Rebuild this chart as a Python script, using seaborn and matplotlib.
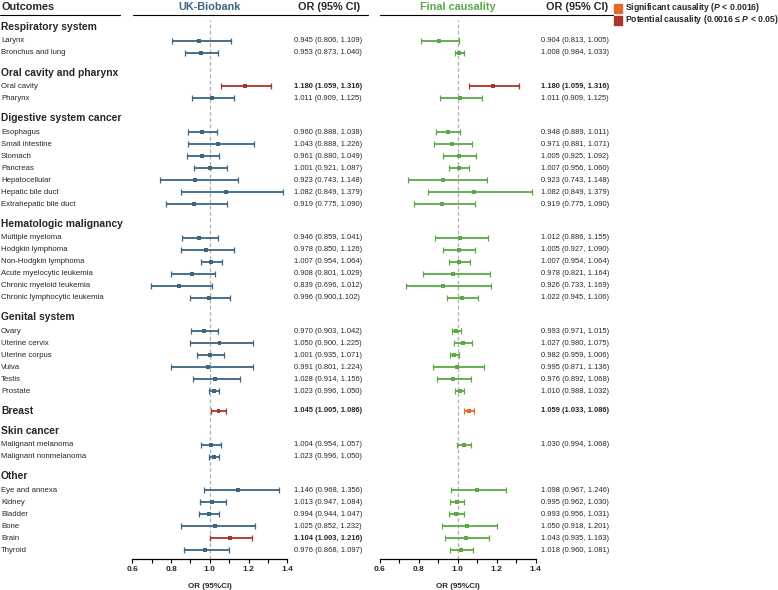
import matplotlib
matplotlib.use("Agg")
import matplotlib.pyplot as plt
import seaborn as sns
import pandas as pd
import numpy as np
from matplotlib.transforms import blended_transform_factory
from matplotlib.lines import Line2D
from matplotlib.patches import Rectangle

# rows: kind = group header / item / header that also carries data (Breast)
labels = ["Respiratory system", "Larynx", "Bronchus and lung",
          "Oral cavity and pharynx", "Oral cavity", "Pharynx",
          "Digestive system cancer", "Esophagus", "Small intestine", "Stomach", "Pancreas",
          "Hepatocellular", "Hepatic bile duct", "Extrahepatic bile duct",
          "Hematologic malignancy", "Multiple myeloma", "Hodgkin lymphoma", "Non-Hodgkin lymphoma",
          "Acute myelocytic leukemia", "Chronic myeloid leukemia", "Chronic lymphocytic leukemia",
          "Genital system", "Ovary", "Uterine cervix", "Uterine corpus", "Vulva", "Testis", "Prostate",
          "Breast",
          "Skin cancer", "Malignant melanoma", "Malignant nonmelanoma",
          "Other", "Eye and annexa", "Kidney", "Bladder", "Bone", "Brain", "Thyroid"]
kinds = ["group", "item", "item",
         "group", "item", "item",
         "group", "item", "item", "item", "item", "item", "item", "item",
         "group", "item", "item", "item", "item", "item", "item",
         "group", "item", "item", "item", "item", "item", "item",
         "groupitem",
         "group", "item", "item",
         "group", "item", "item", "item", "item", "item", "item"]

nan = np.nan
uk_or = [nan, 0.945, 0.953, nan, 1.180, 1.011, nan, 0.960, 1.043, 0.961, 1.001, 0.923, 1.082, 0.919,
         nan, 0.946, 0.978, 1.007, 0.908, 0.839, 0.996, nan, 0.970, 1.050, 1.001, 0.991, 1.028, 1.023,
         1.045, nan, 1.004, 1.023, nan, 1.146, 1.013, 0.994, 1.025, 1.104, 0.976]
uk_lo = [nan, 0.806, 0.873, nan, 1.059, 0.909, nan, 0.888, 0.888, 0.880, 0.921, 0.743, 0.849, 0.775,
         nan, 0.859, 0.850, 0.954, 0.801, 0.696, 0.900, nan, 0.903, 0.900, 0.935, 0.801, 0.914, 0.996,
         1.005, nan, 0.954, 0.996, nan, 0.968, 0.947, 0.944, 0.852, 1.003, 0.868]
uk_hi = [nan, 1.109, 1.040, nan, 1.316, 1.125, nan, 1.038, 1.226, 1.049, 1.087, 1.148, 1.379, 1.090,
         nan, 1.041, 1.126, 1.064, 1.029, 1.012, 1.102, nan, 1.042, 1.225, 1.071, 1.224, 1.156, 1.050,
         1.086, nan, 1.057, 1.050, nan, 1.356, 1.084, 1.047, 1.232, 1.216, 1.097]
uk_status = ["", "none", "none", "", "pot", "none", "", "none", "none", "none", "none", "none", "none", "none",
             "", "none", "none", "none", "none", "none", "none", "", "none", "none", "none", "none", "none", "none",
             "pot", "", "none", "none", "", "none", "none", "none", "none", "pot", "none"]

fc_or = [nan, 0.904, 1.008, nan, 1.180, 1.011, nan, 0.948, 0.971, 1.005, 1.007, 0.923, 1.082, 0.919,
         nan, 1.012, 1.005, 1.007, 0.978, 0.926, 1.022, nan, 0.993, 1.027, 0.982, 0.995, 0.976, 1.010,
         1.059, nan, 1.030, nan, nan, 1.098, 0.995, 0.993, 1.050, 1.043, 1.018]
fc_lo = [nan, 0.813, 0.984, nan, 1.059, 0.909, nan, 0.889, 0.881, 0.925, 0.956, 0.743, 0.849, 0.775,
         nan, 0.886, 0.927, 0.954, 0.821, 0.733, 0.945, nan, 0.971, 0.980, 0.959, 0.871, 0.892, 0.988,
         1.033, nan, 0.994, nan, nan, 0.967, 0.962, 0.956, 0.918, 0.935, 0.960]
fc_hi = [nan, 1.005, 1.033, nan, 1.316, 1.125, nan, 1.011, 1.071, 1.092, 1.060, 1.148, 1.379, 1.090,
         nan, 1.155, 1.090, 1.064, 1.164, 1.169, 1.106, nan, 1.015, 1.075, 1.006, 1.136, 1.068, 1.032,
         1.086, nan, 1.068, nan, nan, 1.246, 1.030, 1.031, 1.201, 1.163, 1.081]
fc_status = ["", "none", "none", "", "pot", "none", "", "none", "none", "none", "none", "none", "none", "none",
             "", "none", "none", "none", "none", "none", "none", "", "none", "none", "none", "none", "none", "none",
             "sig", "", "none", "", "", "none", "none", "none", "none", "none", "none"]

# text overrides where the source prints differently
uk_text_override = {"Chronic lymphocytic leukemia": "0.996 (0.900,1.102)"}

UK_BLUE = "#3d6481"
GREEN = "#5aa846"
SIG = "#e0692c"
POT = "#a8342c"

W, H = 778, 590
sns.set_style("white")
plt.rcParams["font.family"] = ["Liberation Sans", "DejaVu Sans"]
plt.rcParams["mathtext.fontset"] = "custom"
plt.rcParams["mathtext.bfit"] = "Liberation Sans:italic:bold"
plt.rcParams["mathtext.it"] = "Liberation Sans:italic"

# vertical positions from the row structure
ys = []
y = 0.0
prev = None
for k in kinds:
    if prev is None:
        y = 0.0
    elif k in ("group", "groupitem"):
        y += 1.65
    elif prev == "group":
        y += 1.15
    else:
        y += 1.0
    ys.append(y)
    prev = k

PX_PER_ROW = 12.0
Y0_PX = 27.0
AX_TOP_PX, AX_BOT_PX = 20.0, 559.3
ylim = ((AX_BOT_PX - Y0_PX) / PX_PER_ROW, -(Y0_PX - AX_TOP_PX) / PX_PER_ROW)

fig = plt.figure(figsize=(W / 100, H / 100), dpi=100)


def make_ax(left_px, right_px):
    return fig.add_axes([left_px / W, 1 - AX_BOT_PX / H, (right_px - left_px) / W,
                         (AX_BOT_PX - AX_TOP_PX) / H])


def forest(ax, ors, los, his, status, base_color):
    df = pd.DataFrame({"OR": ors, "lo": los, "hi": his, "y": ys, "status": status}).dropna()
    palette = {"none": base_color, "sig": SIG, "pot": POT}
    for st, sub in df.groupby("status"):
        ax.errorbar(sub["OR"], sub["y"], xerr=[sub["OR"] - sub["lo"], sub["hi"] - sub["OR"]],
                    fmt="none", ecolor=palette[st], elinewidth=1.3, capsize=2.2, capthick=0.9)
    sns.scatterplot(data=df, x="OR", y="y", hue="status", palette=palette, marker="s",
                    s=8, linewidth=0, legend=False, ax=ax, zorder=3)
    ax.axvline(1.0, color="#b0b0b0", linestyle=(0, (3, 2)), linewidth=0.9, zorder=0)
    ax.set_xlim(0.6, 1.4)
    ax.set_ylim(*ylim)
    ax.set_xticks([0.6, 0.8, 1.0, 1.2, 1.4])
    ax.set_xticks(np.arange(0.6, 1.41, 0.1), minor=True)
    ax.set_xticklabels(["0.6", "0.8", "1.0", "1.2", "1.4"], fontweight="bold", fontsize=6)
    ax.tick_params(axis="x", which="both", direction="out", length=3, width=0.8, pad=2,
                   bottom=True, color="black")
    ax.set_yticks([])
    for s in ["top", "right", "left"]:
        ax.spines[s].set_visible(False)
    ax.spines["bottom"].set_linewidth(0.9)
    ax.spines["bottom"].set_color("black")
    ax.set_xlabel("OR (95%CI)", fontweight="bold", fontsize=5.8, labelpad=7)
    ax.set_ylabel("")
    ax.patch.set_alpha(0)


ax_uk = make_ax(132.3, 287.3)
ax_fc = make_ax(379.7, 535.7)
forest(ax_uk, uk_or, uk_lo, uk_hi, uk_status, UK_BLUE)
forest(ax_fc, fc_or, fc_lo, fc_hi, fc_status, GREEN)

tr = blended_transform_factory(fig.transFigure, ax_uk.transData)
for i, lab in enumerate(labels):
    k = kinds[i]
    if k in ("group", "groupitem"):
        fig.text(1 / W, ys[i], lab, transform=tr, fontsize=7.4, fontweight="bold", va="center")
    else:
        fig.text(1 / W, ys[i], lab, transform=tr, fontsize=5.6, va="center")
    if not np.isnan(uk_or[i]):
        t = uk_text_override.get(lab, f"{uk_or[i]:.3f} ({uk_lo[i]:.3f}, {uk_hi[i]:.3f})")
        fig.text(294.5 / W, ys[i], t, transform=tr, fontsize=5.4, va="center",
                 fontweight="bold" if uk_status[i] != "none" else "normal")
    if not np.isnan(fc_or[i]):
        t = f"{fc_or[i]:.3f} ({fc_lo[i]:.3f}, {fc_hi[i]:.3f})"
        fig.text(541 / W, ys[i], t, transform=tr, fontsize=5.4, va="center",
                 fontweight="bold" if fc_status[i] != "none" else "normal")

# header row
hy = 1 - 6.5 / H
fig.text(1 / W, hy, "Outcomes", fontsize=7.8, fontweight="bold", va="center")
fig.text(210 / W, hy, "UK-Biobank", fontsize=7.8, fontweight="bold", va="center", ha="center",
         color=UK_BLUE)
fig.text(298 / W, hy, "OR (95% CI)", fontsize=7.8, fontweight="bold", va="center")
fig.text(457.5 / W, hy, "Final causality", fontsize=7.8, fontweight="bold", va="center",
         ha="center", color=GREEN)
fig.text(546 / W, hy, "OR (95% CI)", fontsize=7.8, fontweight="bold", va="center")
ly = 1 - 15 / H
for x0, x1 in [(0, 120), (133, 368), (380, 613)]:
    fig.add_artist(Line2D([x0 / W, x1 / W], [ly, ly], color="black", linewidth=0.8))

# legend
leg_items = [(SIG, r"Significant causality ($\mathbfit{P}$ < 0.0016)"),
             (POT, r"Potential causality (0.0016 ≤ $\mathbfit{P}$ < 0.05)")]
for j, (c, t) in enumerate(leg_items):
    yc = 8 + 12 * j
    fig.add_artist(Rectangle((613.5 / W, 1 - (yc + 4.5) / H), 8 / W, 9 / H, color=c,
                             transform=fig.transFigure))
    fig.text(625 / W, 1 - yc / H, t, fontsize=6.2, fontweight="bold", va="center")

fig.savefig("out.png", dpi=100)
